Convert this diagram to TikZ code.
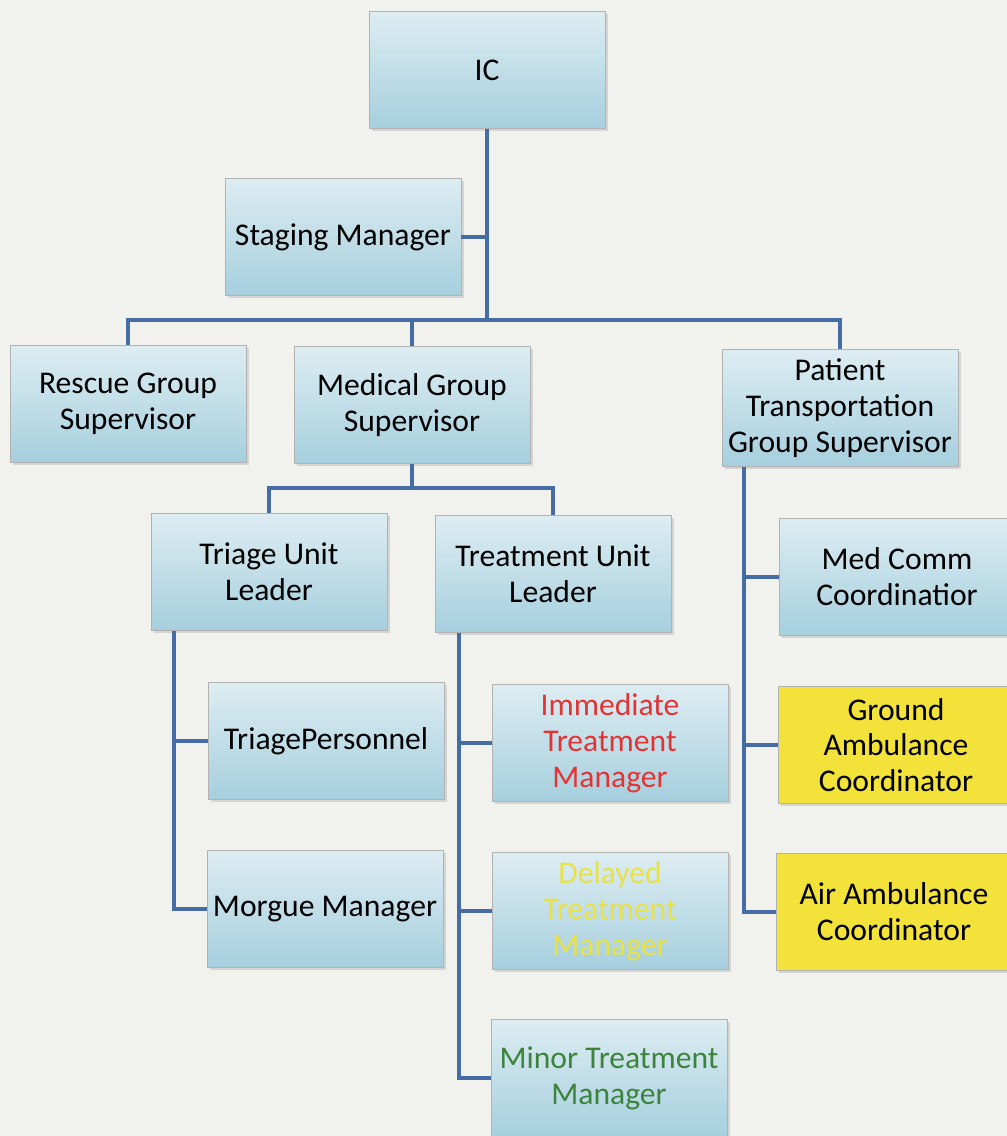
\documentclass[tikz,border=0pt]{standalone}
\usepackage{fontspec}
\setmainfont{Carlito}
\usetikzlibrary{shadows}
\definecolor{paper}{RGB}{241,241,238}
\definecolor{boxtop}{RGB}{221,237,242}
\definecolor{boxbot}{RGB}{166,207,222}
\definecolor{linkblue}{RGB}{70,108,165}
\definecolor{amb}{RGB}{242,226,58}
\tikzset{
  box/.style={draw=gray!60, top color=boxtop, bottom color=boxbot,
    minimum width=4.72cm, minimum height=2.34cm, align=center,
    font=\fontsize{18}{20.4}\selectfont,
    drop shadow={opacity=0.25, shadow xshift=1.5pt, shadow yshift=-1.5pt}},
  ambbox/.style={box, top color=amb, bottom color=amb},
  link/.style={draw=linkblue, line width=2pt}
}
\begin{document}
\begin{tikzpicture}[x=0.02cm, y=-0.02cm]
            \useasboundingbox (0,0) rectangle (1007,1136);
            \fill[paper] (0,0) rectangle (1007,1136);
            \clip (0,0) rectangle (1007,1136);

            \node[box] (ic) at (487, 70) {IC};
            \node[box] (stg) at (343, 237) {Staging Manager};

            \node[box] (rescue) at (128, 404) {Rescue Group\\Supervisor};
            \node[box] (med) at (412, 405) {Medical Group\\Supervisor};
            \node[box] (pt) at (840, 408) {Patient\\Transportation\\Group Supervisor};

            \node[box] (triage) at (269, 572) {Triage Unit\\Leader};
            \node[box] (treat) at (553, 574) {Treatment Unit\\Leader};

            \node[box] (tpers) at (326, 741) {TriagePersonnel};
            \node[box] (morgue) at (325, 909) {Morgue Manager};

            \node[box, text={rgb,255:red,226;green,52;blue,52}] (imm) at (610, 743) {Immediate\\Treatment\\Manager};
            \node[box, text={rgb,255:red,232;green,226;blue,70}] (del) at (610, 911) {Delayed\\Treatment\\Manager};
            \node[box, text={rgb,255:red,60;green,132;blue,60}] (minor) at (609, 1078) {Minor Treatment\\Manager};

            \node[box] (comm) at (897, 577) {Med Comm\\Coordinatior};
            \node[ambbox] (ground) at (896, 745) {Ground\\Ambulance\\Coordinator};
            \node[ambbox] (air) at (894, 912) {Air Ambulance\\Coordinator};

            \coordinate (bus) at (487, 320);
            \coordinate (mbus) at (412, 488);
            \coordinate (tl) at (174, 0);
            \coordinate (tr) at (459, 0);
            \coordinate (pl) at (744, 0);

            \draw[link] (ic.south) -- (bus);
            \draw[link] (stg.east) -- (stg.east -| ic.south);
            \draw[link] (rescue.north) |- (bus) -| (pt.north);
            \draw[link] (med.north) -- (med.north |- bus);

            \draw[link] (med.south) -- (mbus);
            \draw[link] (triage.north) |- (mbus) -| (treat.north);

            \draw[link] (tl |- triage.south) |- (morgue.west);
            \draw[link] (tl |- tpers.west) -- (tpers.west);

            \draw[link] (tr |- treat.south) |- (minor.west);
            \draw[link] (tr |- imm.west) -- (imm.west);
            \draw[link] (tr |- del.west) -- (del.west);

            \draw[link] (pl |- pt.south) |- (air.west);
            \draw[link] (pl |- comm.west) -- (comm.west);
            \draw[link] (pl |- ground.west) -- (ground.west);
\end{tikzpicture}
\end{document}
